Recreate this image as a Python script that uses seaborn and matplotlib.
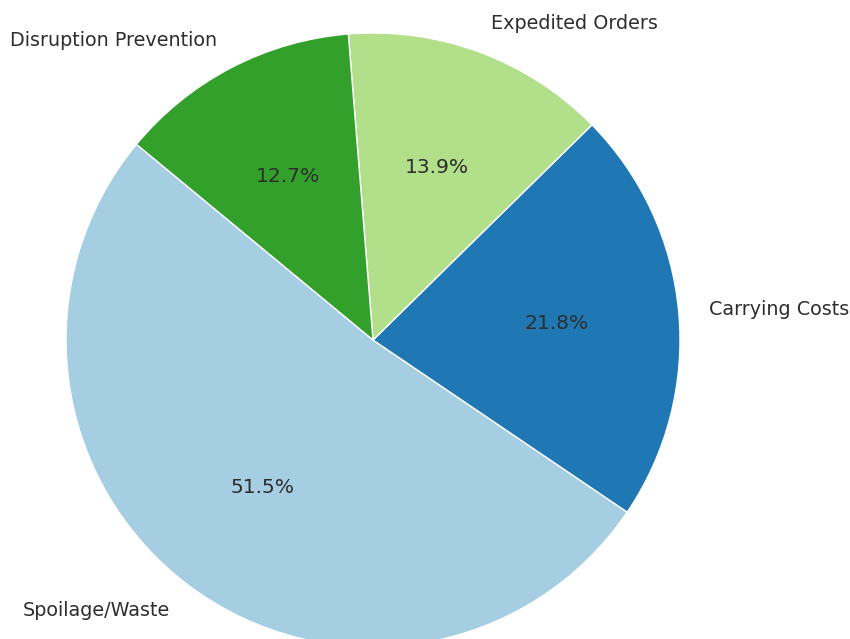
import matplotlib
matplotlib.use("Agg")
import matplotlib.pyplot as plt
import seaborn as sns

# Cost breakdown (shares in %)
categories = ['Spoilage/Waste', 'Carrying Costs', 'Expedited Orders', 'Disruption Prevention']
shares = [51.45, 21.8, 13.9, 12.7]

sns.set_theme(style='white')
colors = sns.color_palette('Paired', 4)

fig = plt.figure(figsize=(8.5, 6.39), dpi=100)
ax = fig.add_axes([0, 0, 1, 1])

wedges, texts, autotexts = ax.pie(
    shares,
    labels=categories,
    colors=colors,
    autopct='%1.1f%%',
    startangle=140.4,
    wedgeprops={'edgecolor': 'white', 'linewidth': 1},
    textprops={'fontsize': 13.8, 'color': '#2e2e2e'},
)
for t in autotexts:
    t.set_fontsize(14.6)

# pie is cropped at the bottom like the reference
r = 307.0
ax.set_xlim(-373 / r, (850 - 373) / r)
ax.set_ylim(-299 / r, 340 / r)
ax.set_aspect('equal')
ax.axis('off')

plt.savefig('out.png', dpi=100)
plt.close()
